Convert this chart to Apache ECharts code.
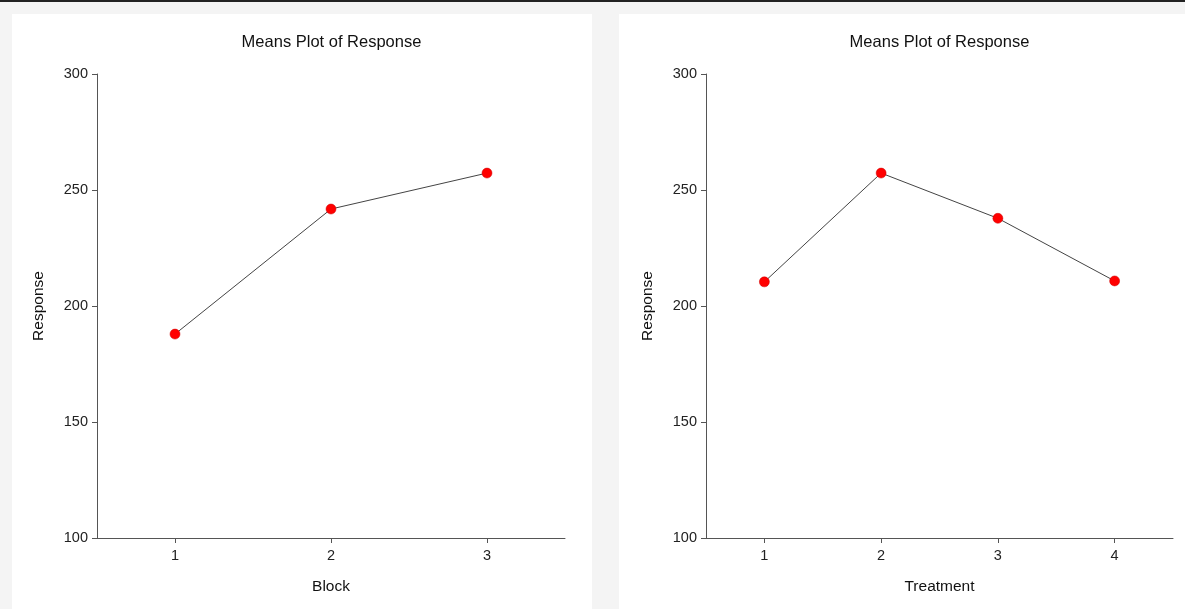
<!DOCTYPE html>
<html><head><meta charset="utf-8">
<script src="https://cdn.jsdelivr.net/npm/echarts@6/dist/echarts.min.js"></script>
<style>html,body{margin:0;padding:0;background:#f4f4f4;}#c{width:1185px;height:609px;}</style>
</head><body><div id="c"></div>
<script>
const blockCats = ['1','2','3'];
const blockMeans = [187.9, 241.8, 257.3];
const treatCats = ['1','2','3','4'];
const treatMeans = [210.4, 257.3, 237.8, 210.8];
const yTicks = {min:100, max:300, step:50};
const titleText = 'Means Plot of Response';
const yName = 'Response';
const xNames = ['Block','Treatment'];

const FONT = '"Liberation Sans", Arial, sans-serif';
const chart = echarts.init(document.getElementById('c'));
function yAxis(gi){
  return {type:'value', gridIndex:gi, min:yTicks.min, max:yTicks.max, interval:yTicks.step,
    name:yName, nameLocation:'middle', nameGap:50, nameRotate:90,
    nameTextStyle:{fontFamily:FONT, fontSize:15.5, color:'#111'},
    axisLine:{show:true, lineStyle:{color:'#555', width:1}},
    axisTick:{show:true, length:5, lineStyle:{color:'#555'}},
    axisLabel:{fontFamily:FONT, fontSize:14.5, color:'#222', margin:9},
    splitLine:{show:false}};
}
function xAxis(gi, cats, name){
  return {type:'category', gridIndex:gi, data:cats, boundaryGap:true,
    name:name, nameLocation:'middle', nameGap:41,
    nameTextStyle:{fontFamily:FONT, fontSize:15.5, color:'#111'},
    axisLine:{show:true, onZero:false, lineStyle:{color:'#555', width:1}},
    axisTick:{show:true, alignWithLabel:true, length:5, lineStyle:{color:'#555'}},
    axisLabel:{fontFamily:FONT, fontSize:14.5, color:'#222', margin:10},
    splitLine:{show:false}};
}
function series(gi, vals){
  return {type:'line', xAxisIndex:gi, yAxisIndex:gi, data:vals,
    symbol:'circle', symbolSize:10,
    lineStyle:{color:'#444', width:1},
    itemStyle:{color:'#ff0000', borderColor:'#cc0000', borderWidth:0.5},
    emphasis:{disabled:true}, animation:false};
}
chart.setOption({
  backgroundColor:'#f4f4f4',
  animation:false,
  graphic:[
    {type:'rect', shape:{x:0,y:0,width:1185,height:2}, style:{fill:'#222'}, z:-10},
    {type:'rect', shape:{x:12,y:14,width:580,height:600}, style:{fill:'#ffffff'}, z:-10},
    {type:'rect', shape:{x:619,y:14,width:570,height:600}, style:{fill:'#ffffff'}, z:-10}
  ],
  title:[
    {text:titleText, left:326.5, top:29, textAlign:'center', textStyle:{fontFamily:FONT, fontSize:16.5, fontWeight:'normal', color:'#111'}},
    {text:titleText, left:934.5, top:29, textAlign:'center', textStyle:{fontFamily:FONT, fontSize:16.5, fontWeight:'normal', color:'#111'}}
  ],
  grid:[
    {left:97, top:74, width:468, height:464},
    {left:706, top:74, width:467, height:464}
  ],
  xAxis:[xAxis(0, blockCats, xNames[0]), xAxis(1, treatCats, xNames[1])],
  yAxis:[yAxis(0), yAxis(1)],
  series:[series(0, blockMeans), series(1, treatMeans)]
});
</script></body></html>
